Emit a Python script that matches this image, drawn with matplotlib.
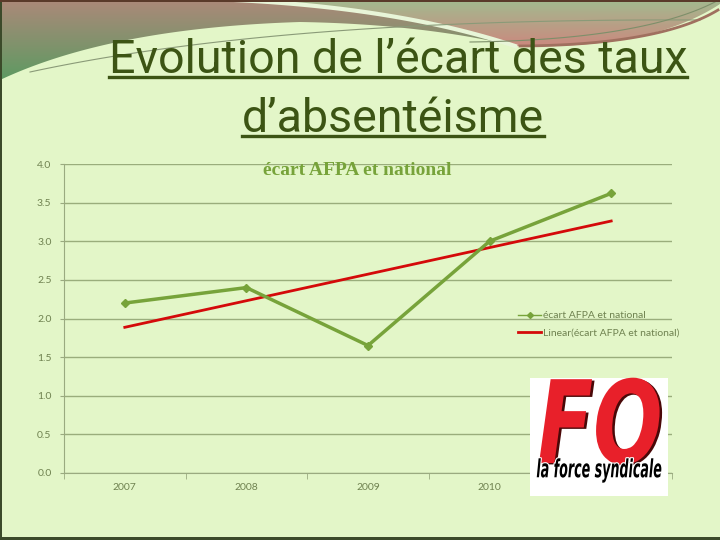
import numpy as np
import matplotlib
matplotlib.use("Agg")
import matplotlib.pyplot as plt
from matplotlib.lines import Line2D
from matplotlib.patches import Polygon, Rectangle
from matplotlib.colors import LinearSegmentedColormap
from matplotlib.transforms import Affine2D
import matplotlib.patheffects as pe

# data
years = ["2007", "2008", "2009", "2010", "2011"]
ecart = [2.2, 2.4, 1.65, 3.0, 3.62]
y_ticks = [0.0, 0.5, 1.0, 1.5, 2.0, 2.5, 3.0, 3.5, 4.0]

bg = "#e3f6c8"
green = "#77a33a"
red = "#d40a0a"
tick_col = "#6f8250"
title_col = "#3c5414"


class Squeeze(pe.AbstractPathEffect):
    """draw text glyphs squeezed/stretched around their centre (logo lettering)"""
    def __init__(self, sx, sy, offset=(0, 0), color=None, stroke=None, lw=0):
        super().__init__(offset)
        self.sx, self.sy = sx, sy
        self.color, self.stroke, self.lw = color, stroke, lw

    def draw_path(self, renderer, gc, tpath, affine, rgbFace):
        ext = tpath.get_extents()
        cx, cy = (ext.x0 + ext.x1) / 2, (ext.y0 + ext.y1) / 2
        tr = (Affine2D().translate(-cx, -cy).scale(self.sx, self.sy).translate(cx, cy)
              + affine + self._offset_transform(renderer))
        if self.stroke is not None:
            gc0 = renderer.new_gc()
            gc0.copy_properties(gc)
            gc0.set_foreground(self.stroke)
            gc0.set_linewidth(self.lw)
            renderer.draw_path(gc0, tpath, tr, None)
            gc0.restore()
        face = rgbFace if self.color is None else matplotlib.colors.to_rgba(self.color)
        gc1 = renderer.new_gc()
        gc1.copy_properties(gc)
        gc1.set_linewidth(0)
        renderer.draw_path(gc1, tpath, tr, face)
        gc1.restore()


fig = plt.figure(figsize=(7.2, 5.4), dpi=100)
fig.patch.set_facecolor(bg)

# decorative slide background (pixel coords, y down)
deco = fig.add_axes([0, 0, 1, 1], zorder=0)
deco.set_xlim(0, 720)
deco.set_ylim(540, 0)
deco.axis("off")

t = np.linspace(0, 1, 60)
def bez(p0, p1, p2):
    p0, p1, p2 = map(np.array, (p0, p1, p2))
    return ((1 - t)[:, None] ** 2 * p0 + 2 * ((1 - t) * t)[:, None] * p1 + (t ** 2)[:, None] * p2)

def grad_fill(verts, top_col, bot_col, y0, y1):
    poly = Polygon(verts, facecolor="none", edgecolor="none")
    deco.add_patch(poly)
    cm = LinearSegmentedColormap.from_list("g", [top_col, bot_col])
    im = deco.imshow(np.linspace(0, 1, 100)[:, None], cmap=cm, aspect="auto",
                     extent=[0, 720, y1, y0], zorder=1)
    im.set_clip_path(poly)

# left wave: brown on top, green at the lower left
cl = np.vstack([bez((0, 80), (110, 28), (300, 22)), bez((300, 22), (420, 24), (515, 46))])
grad_fill(np.vstack([[(0, 0)], cl, [(515, 0)]]), "#ab8979", "#5e9a62", 0, 80)
# right wave: grey green on top, reddish below
lt = bez((235, 0), (400, 8), (515, 46))
cr = np.vstack([lt, bez((515, 46), (650, 50), (720, 4))])
grad_fill(np.vstack([cr, [(720, 0)]]), "#a3ba8f", "#cc877e", 0, 48)
deco.plot(lt[:, 0], lt[:, 1], color="#e8f5d8", lw=3, zorder=2)
sw = bez((30, 72), (280, 18), (700, 20))
deco.plot(sw[:, 0], sw[:, 1], color="#8a9a78", lw=0.8, zorder=2)
sw2 = bez((470, 42), (640, 40), (715, 2))
deco.plot(sw2[:, 0], sw2[:, 1], color="#7d8f6a", lw=0.8, zorder=2)
sw3 = bez((520, 46), (660, 45), (718, 10))
deco.plot(sw3[:, 0], sw3[:, 1], color="#a0705f", lw=2, zorder=2)
# slide border
deco.add_patch(Rectangle((0, 0), 2, 540, color="#3b4a2a", lw=0, zorder=3))
deco.add_patch(Rectangle((0, 537), 720, 3, color="#3b4a2a", lw=0, zorder=3))
deco.add_patch(Rectangle((0, 0), 720, 1.5, color="#5a3a2a", lw=0, zorder=3))

# slide title
title_font = dict(family="Roboto", fontsize=33.5, color=title_col)
t1 = fig.text(398 / 720, 1 - 73 / 540, "Evolution de l\u2019\u00e9cart des taux", ha="center", va="baseline", **title_font)
t2 = fig.text(393 / 720, 1 - 132 / 540, "d\u2019absent\u00e9isme", ha="center", va="baseline", **title_font)

# chart
ax = fig.add_axes([64 / 720, 1 - 473 / 540, 608 / 720, 309 / 540], zorder=1)
ax.set_facecolor("none")
x = np.arange(len(years))
ax.plot(x, ecart, color=green, lw=2.5, marker="D", ms=4.5, label="\u00e9cart AFPA et national", zorder=3)
coef = np.polyfit(x, ecart, 1)
ax.plot(x, np.polyval(coef, x), color=red, lw=2, label="Linear(\u00e9cart AFPA et national)", zorder=2)

ax.set_xlim(-0.5, len(years) - 0.5)
ax.set_ylim(0, 4)
ax.set_yticks(y_ticks)
ax.set_yticklabels([f"{v:.1f}" for v in y_ticks])
ax.set_xticks(x)
ax.set_xticklabels(years)
ax.set_xticks(np.arange(-0.5, len(years)), minor=True)
ax.tick_params(axis="x", which="major", length=0, pad=7, labelsize=7.5, labelcolor=tick_col)
ax.tick_params(axis="x", which="minor", length=4, color="#9aaa80", direction="out")
ax.tick_params(axis="y", length=3, color="#9aaa80", labelsize=7.5, labelcolor=tick_col, pad=6)
for lab in ax.get_xticklabels() + ax.get_yticklabels():
    lab.set_family("Lato")
ax.grid(axis="y", color="#9aad7c", lw=1)
ax.set_axisbelow(True)
for s in ["top", "right"]:
    ax.spines[s].set_visible(False)
ax.spines["left"].set_color("#9aaa80")
ax.spines["bottom"].set_color("#9aaa80")

ax.text(0.482, 0.98, "\u00e9cart AFPA et national", transform=ax.transAxes, ha="center", va="center",
        family="Liberation Serif", fontweight="bold", fontsize=14, color=green)

leg = ax.legend(loc="center left", bbox_to_anchor=(0.732, 0.482), frameon=False,
                fontsize=7.5, handlelength=2.2, handletextpad=0.15, labelspacing=0.75)
for txt in leg.get_texts():
    txt.set_color(tick_col)
    txt.set_family("Lato")
leg.legend_handles[0].set_linewidth(1)
leg.legend_handles[0].set_markersize(3)

# FO logo
logo = fig.add_axes([530 / 720, 1 - 496 / 540, 138 / 720, 118 / 540], zorder=3)
logo.set_xlim(0, 138)
logo.set_ylim(118, 0)
logo.axis("off")
logo.add_patch(Rectangle((0, 0), 138, 118, color="white", lw=0))
logo.text(70, 50, "FO", family="DejaVu Sans", fontweight="bold", style="italic",
          fontsize=60, color="#e8202a", ha="center", va="center",
          path_effects=[Squeeze(0.98, 1.38, offset=(1.8, -1), color="#4a0808"), Squeeze(0.98, 1.38)])
logo.text(69, 92, "la force syndicale", family="DejaVu Sans", fontweight="bold", style="italic",
          fontsize=12, color="black", ha="center", va="center",
          path_effects=[Squeeze(0.76, 1.5, stroke="white", lw=1.6)])

# underline the slide title
fig.canvas.draw()
r = fig.canvas.get_renderer()
for tx, ypx in [(t1, 77), (t2, 136)]:
    bb = tx.get_window_extent(r)
    fig.add_artist(Line2D([bb.x0 / 720, bb.x1 / 720], [1 - ypx / 540] * 2, color=title_col, lw=2.4))

fig.savefig("out.png", dpi=100, facecolor=bg)
